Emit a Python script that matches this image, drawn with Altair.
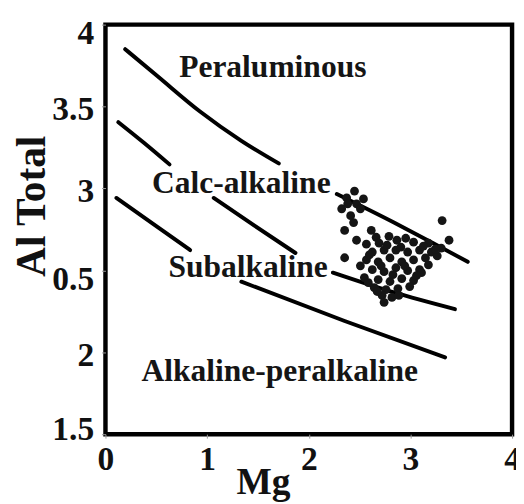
import altair as alt
import pandas as pd

# Boundary curves (Mg, Al total); each curve is broken where a field label sits on it
curve_seg = ["1a"] * 5 + ["1b"] * 4 + ["2a"] * 3 + ["2b"] * 3 + ["2c"] * 3 + ["3a"] * 3 + ["3b"] * 3
curve_mg = [0.194, 0.513, 0.930, 1.337, 1.705,
            2.276, 2.838, 3.225, 3.564,
            0.126, 0.378, 0.630,
            1.065, 1.462, 1.869,
            2.237, 2.838, 3.438,
            0.107, 0.465, 0.833,
            1.337, 2.353, 3.341]
curve_al = [3.850, 3.685, 3.470, 3.291, 3.153,
            2.966, 2.792, 2.666, 2.552,
            3.405, 3.279, 3.147,
            2.942, 2.774, 2.606,
            2.486, 2.365, 2.263,
            2.942, 2.786, 2.624,
            2.431, 2.191, 1.969]

# Analysed samples
pt_mg = [2.450, 2.538, 2.470, 2.373, 2.508, 2.324, 2.441, 2.353, 2.470, 2.412,
         2.615, 2.663, 2.567, 3.312, 2.692, 2.867, 3.031, 3.177, 2.954, 2.789,
         2.625, 2.741, 2.857, 2.973, 3.090, 3.206, 3.303, 2.567, 2.683, 2.799,
         2.915, 3.031, 3.148, 3.264, 2.625, 2.741, 2.857, 2.973, 3.090, 3.177,
         2.683, 2.799, 2.915, 3.031, 3.109, 2.644, 2.760, 2.877, 2.993, 2.722,
         2.818, 2.741, 2.547, 2.508, 2.353,
         2.596, 2.712, 2.828, 2.944, 3.060, 2.770, 2.906, 3.128, 2.886, 2.673,
         2.586, 3.245, 3.380, 2.383]
pt_al = [2.984, 2.936, 2.906, 2.942, 2.876, 2.876, 2.792, 2.744, 2.684, 2.834,
         2.744, 2.702, 2.660, 2.804, 2.666, 2.684, 2.672, 2.666, 2.696, 2.708,
         2.612, 2.624, 2.624, 2.612, 2.624, 2.612, 2.636, 2.564, 2.552, 2.576,
         2.552, 2.564, 2.576, 2.588, 2.504, 2.492, 2.516, 2.498, 2.504, 2.534,
         2.444, 2.432, 2.450, 2.438, 2.486, 2.395, 2.383, 2.389, 2.401, 2.347,
         2.335, 2.305, 2.456, 2.528, 2.577,
         2.594, 2.528, 2.474, 2.528, 2.468, 2.654, 2.642, 2.648, 2.347, 2.371,
         2.425, 2.630, 2.684, 2.906]

# Field names
region_names = ["Peraluminous", "Calc-alkaline", "Subalkaline", "Alkaline-peralkaline"]
region_mg = [1.646, 1.337, 1.404, 1.714]
region_al = [3.742, 3.032, 2.522, 1.885]

x_ticks = [0, 1, 2, 3, 4]
y_ticks = [1.5, 2, 2.5, 3, 3.5, 4]

curves = pd.DataFrame({"mg": curve_mg, "al": curve_al, "seg": curve_seg})
points = pd.DataFrame({"mg": pt_mg, "al": pt_al})
regions = pd.DataFrame({"mg": region_mg, "al": region_al, "name": region_names})

SERIF = "Liberation Serif"

x_axis = alt.Axis(
    values=x_ticks, title="Mg", grid=False, domain=False, format="~g",
    labelFont=SERIF, labelFontSize=34, labelFontWeight="bold", labelColor="#111",
    labelPadding=5, labelAngle=0, labelFlush=False, labelOverlap=False,
    tickSize=4, tickColor="#999", tickWidth=1,
    titleFont=SERIF, titleFontSize=38, titleFontWeight="bold", titleColor="#111",
    titleX=160, titleY=60, titleBaseline="alphabetic", titleAlign="center",
)
y_axis = alt.Axis(
    values=y_ticks, title="Al Total", grid=False, domain=False, format="~g",
    labelExpr="datum.value == 2.5 ? '0.5' : datum.label",
    labelFont=SERIF, labelFontSize=34, labelFontWeight="bold", labelColor="#111",
    labelPadding=8, labelFlush=False, labelOverlap=False,
    labelOffset={"condition": [
        {"test": "datum.value == 4", "value": 9},
        {"test": "datum.value == 2.5", "value": 9},
        {"test": "datum.value == 1.5", "value": -5},
    ], "value": 3},
    tickSize=4, tickColor="#999", tickWidth=1,
    titleFont=SERIF, titleFontSize=42, titleFontWeight="bold", titleColor="#111",
    titleAngle=270, titleX=-75, titleY=184, titleBaseline="middle", titleAlign="center",
)

X = alt.X("mg:Q", scale=alt.Scale(domain=[0, 4], nice=False, zero=False), axis=x_axis)
Y = alt.Y("al:Q", scale=alt.Scale(domain=[1.5, 4], nice=False, zero=False), axis=y_axis)

lines = alt.Chart(curves).mark_line(
    color="black", strokeWidth=4, strokeCap="round", interpolate="monotone"
).encode(x=X, y=Y, detail="seg:N", order="mg:Q")
dots = alt.Chart(points).mark_circle(size=80, color="#151515", opacity=1).encode(x=X, y=Y)
labels = alt.Chart(regions).mark_text(
    font=SERIF, fontSize=32, fontWeight="bold", color="#151515",
    align="center", baseline="middle"
).encode(x=X, y=Y, text="name:N")

chart = alt.layer(lines, dots, labels).properties(
    width=413, height=416,
    autosize=alt.AutoSizeParams(type="none"),
    padding={"left": 99, "top": 13, "right": 4, "bottom": 66},
    background="white",
).configure_view(stroke="black", strokeWidth=4.5)

chart.save("out.html", embed_options={"renderer": "svg", "actions": False})
